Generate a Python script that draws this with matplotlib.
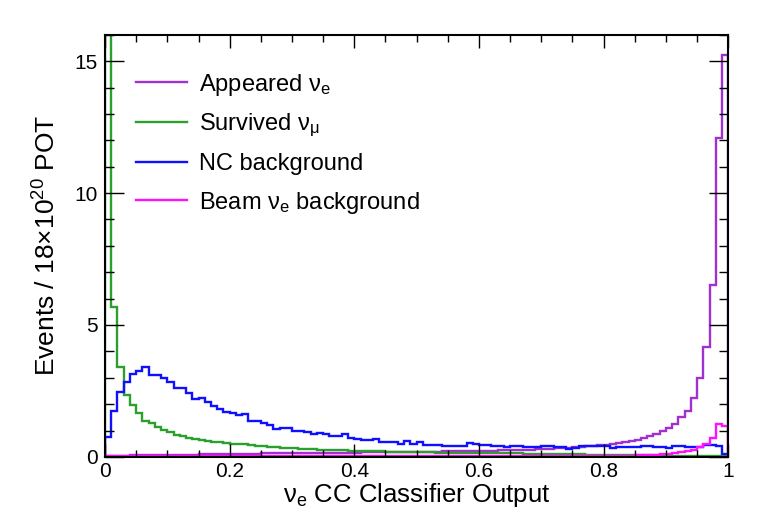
import numpy as np
import matplotlib
matplotlib.use("Agg")
import matplotlib.pyplot as plt

plt.rcParams.update({
    'font.family': ['Liberation Sans', 'DejaVu Sans'],
    'mathtext.fontset': 'custom',
    'mathtext.rm': 'Liberation Sans',
    'mathtext.it': 'Liberation Sans:italic',
    'mathtext.bf': 'Liberation Sans:bold',
    'axes.linewidth': 1.5,
})

# 100 bins on [0, 1]
edges = np.linspace(0.0, 1.0, 101)

appeared_nue = [
    0.03, 0.04, 0.05, 0.05, 0.06, 0.06, 0.07, 0.07, 0.07, 0.08,
    0.08, 0.08, 0.09, 0.09, 0.09, 0.10, 0.10, 0.10, 0.11, 0.11,
    0.11, 0.12, 0.12, 0.12, 0.12, 0.13, 0.13, 0.13, 0.13, 0.14,
    0.14, 0.14, 0.14, 0.15, 0.15, 0.15, 0.15, 0.16, 0.16, 0.16,
    0.16, 0.17, 0.17, 0.17, 0.17, 0.18, 0.18, 0.18, 0.19, 0.19,
    0.19, 0.20, 0.20, 0.20, 0.21, 0.21, 0.21, 0.22, 0.22, 0.23,
    0.23, 0.24, 0.24, 0.25, 0.25, 0.26, 0.27, 0.27, 0.28, 0.29,
    0.30, 0.31, 0.32, 0.33, 0.35, 0.36, 0.38, 0.40, 0.42, 0.44,
    0.46, 0.49, 0.52, 0.56, 0.59, 0.64, 0.70, 0.78, 0.88, 0.97,
    1.08, 1.25, 1.50, 1.75, 2.22, 2.98, 4.18, 6.50, 12.10, 15.25,
]

survived_numu = [
    40.0, 5.70, 3.42, 2.33, 1.98, 1.68, 1.38, 1.28, 1.15, 1.02,
    0.93, 0.84, 0.78, 0.73, 0.69, 0.65, 0.61, 0.58, 0.55, 0.52,
    0.50, 0.50, 0.49, 0.44, 0.43, 0.40, 0.39, 0.36, 0.35, 0.34,
    0.33, 0.31, 0.30, 0.30, 0.28, 0.27, 0.27, 0.26, 0.25, 0.24,
    0.24, 0.23, 0.22, 0.22, 0.21, 0.20, 0.20, 0.19, 0.19, 0.18,
    0.18, 0.17, 0.17, 0.16, 0.16, 0.16, 0.15, 0.15, 0.15, 0.15,
    0.14, 0.14, 0.14, 0.13, 0.13, 0.13, 0.13, 0.12, 0.12, 0.12,
    0.11, 0.11, 0.11, 0.10, 0.10, 0.10, 0.10, 0.09, 0.09, 0.09,
    0.08, 0.08, 0.08, 0.08, 0.07, 0.07, 0.07, 0.06, 0.06, 0.06,
    0.05, 0.05, 0.05, 0.05, 0.04, 0.04, 0.04, 0.04, 0.03, 0.03,
]

nc_background = [
    0.76, 1.74, 2.45, 2.83, 3.14, 3.27, 3.42, 3.11, 3.10, 3.00,
    2.83, 2.62, 2.62, 2.43, 2.21, 2.24, 2.08, 1.93, 1.82, 1.72,
    1.65, 1.59, 1.62, 1.36, 1.35, 1.27, 1.21, 1.04, 1.10, 1.09,
    0.99, 0.98, 0.96, 0.87, 0.91, 0.85, 0.78, 0.80, 0.87, 0.70,
    0.66, 0.65, 0.65, 0.67, 0.58, 0.55, 0.55, 0.49, 0.62, 0.49,
    0.58, 0.47, 0.47, 0.46, 0.43, 0.43, 0.43, 0.43, 0.52, 0.50,
    0.45, 0.45, 0.43, 0.42, 0.37, 0.40, 0.40, 0.37, 0.37, 0.38,
    0.43, 0.40, 0.36, 0.36, 0.31, 0.33, 0.40, 0.40, 0.43, 0.43,
    0.43, 0.35, 0.38, 0.38, 0.38, 0.38, 0.43, 0.43, 0.38, 0.38,
    0.33, 0.43, 0.43, 0.36, 0.36, 0.36, 0.45, 0.45, 0.41, 0.10,
]

beam_nue = [
    0.02, 0.02, 0.02, 0.02, 0.02, 0.02, 0.02, 0.02, 0.02, 0.02,
    0.02, 0.02, 0.02, 0.02, 0.03, 0.03, 0.03, 0.03, 0.03, 0.03,
    0.03, 0.03, 0.03, 0.03, 0.03, 0.03, 0.03, 0.03, 0.03, 0.03,
    0.03, 0.03, 0.03, 0.03, 0.03, 0.03, 0.03, 0.03, 0.03, 0.03,
    0.04, 0.04, 0.04, 0.04, 0.04, 0.04, 0.04, 0.04, 0.04, 0.04,
    0.04, 0.04, 0.04, 0.04, 0.04, 0.04, 0.04, 0.04, 0.04, 0.04,
    0.04, 0.04, 0.04, 0.04, 0.04, 0.04, 0.04, 0.04, 0.04, 0.04,
    0.04, 0.04, 0.04, 0.04, 0.04, 0.05, 0.05, 0.05, 0.05, 0.05,
    0.05, 0.05, 0.05, 0.05, 0.05, 0.06, 0.07, 0.08, 0.09, 0.10,
    0.12, 0.15, 0.18, 0.21, 0.27, 0.36, 0.50, 0.70, 1.23, 1.17,
]

series = [
    (appeared_nue, '#a030d0', r'Appeared ν$_\mathrm{e}$'),
    (survived_numu, '#2ca02c', r'Survived ν$_\mathrm{\mu}$'),
    (nc_background, '#1010ff', 'NC background'),
    (beam_nue, '#ff10ff', r'Beam ν$_\mathrm{e}$ background'),
]

fig = plt.figure(figsize=(7.61, 5.27), dpi=100)
ax = fig.add_axes([0.138, 0.133, 0.819, 0.801])

for vals, col, lab in series:
    ax.stairs(vals, edges, color=col, linewidth=1.7, label=lab)

ax.set_xlim(0, 1)
ax.set_ylim(0, 16)
ax.set_xticks(np.arange(0, 1.01, 0.2))
ax.set_xticklabels(['0', '0.2', '0.4', '0.6', '0.8', '1'])
ax.set_xticks(np.arange(0, 1.001, 0.05), minor=True)
ax.set_yticks([0, 5, 10, 15])
ax.set_yticks(np.arange(0, 16.01, 1), minor=True)
ax.tick_params(axis='both', which='both', direction='in', top=True, right=True,
               labelsize=15, width=1.0)
ax.tick_params(axis='x', which='major', length=9.5, pad=4)
ax.tick_params(axis='x', which='minor', length=4.7)
ax.tick_params(axis='y', which='major', length=13.5, pad=5)
ax.tick_params(axis='y', which='minor', length=6.8)

ax.set_xlabel(r'ν$_\mathrm{e}$ CC Classifier Output', fontsize=18.5, labelpad=0)
ax.set_ylabel(r'Events / 18×10$^{20}$ POT', fontsize=19, labelpad=10)

ax.legend(loc='upper left', bbox_to_anchor=(0.016, 0.963), frameon=False,
          fontsize=17, handlelength=2.15, handletextpad=0.5, labelspacing=0.6)

fig.savefig('out.png', dpi=100)
